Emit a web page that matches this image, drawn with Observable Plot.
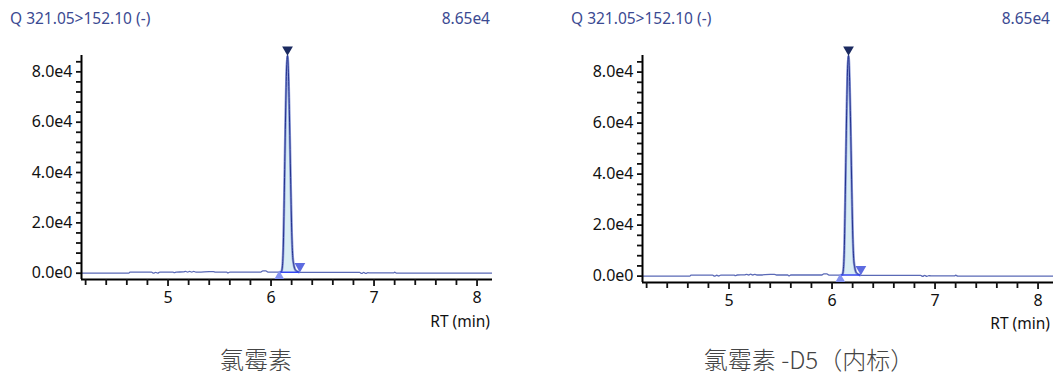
<!DOCTYPE html>
<html><head><meta charset="utf-8">
<script src="https://cdn.jsdelivr.net/npm/d3@7"></script>
<script src="https://cdn.jsdelivr.net/npm/@observablehq/plot@0.6"></script>
<style>
body{margin:0;background:#fff;}
#root{position:relative;width:1053px;height:380px;overflow:hidden;font-family:"Noto Sans","Open Sans",sans-serif;}
.hdr{position:absolute;top:7px;font-size:15.5px;color:#3b4a92;line-height:22px;white-space:nowrap;}
.xl{position:absolute;font-size:15.5px;color:#111;line-height:20px;white-space:nowrap;}
.cap{position:absolute;top:344px;font-size:24px;font-weight:300;color:#444;line-height:30px;white-space:nowrap;font-family:"Noto Sans CJK SC","Noto Sans",sans-serif;transform:translateX(-50%);}
.plot{position:absolute;top:30px;}
</style>
</head><body><div id="root"></div>
<script>
// ---- data ----
const titleLeft = "氯霉素";
const titleRight = "氯霉素 -D5（内标）";
const transition = "Q 321.05>152.10 (-)";
const maxLabel = "8.65e4";
const rt = [4.16,4.62,4.63,4.84,4.86,4.88,4.90,4.92,5.05,5.06,5.08,5.15,5.17,5.19,5.21,5.23,5.25,5.27,5.30,5.40,5.44,5.46,5.57,5.58,5.60,5.90,5.92,5.95,5.97,6.08,6.09,6.10,6.11,6.12,6.13,6.14,6.15,6.16,6.17,6.18,6.19,6.20,6.21,6.22,6.23,6.24,6.26,6.27,6.30,6.86,6.88,6.90,6.92,6.94,6.96,7.19,7.20,7.22,8.15];
const intensityA = [0,0,400,400,0,350,50,400,400,200,450,500,700,450,750,450,700,450,450,650,650,450,450,100,450,450,900,900,400,400,400,600,2500,12000,35000,60000,80000,86500,78000,60000,38000,18000,7000,3500,1800,1100,600,400,300,300,-100,300,-100,200,100,100,400,0,0];
const intensityB = [0,0,400,400,0,350,50,400,400,200,450,500,700,450,750,450,700,450,450,650,650,450,450,100,450,450,900,900,400,400,400,600,2500,12000,35000,60000,80000,86500,78000,60000,38000,18000,7000,3500,1800,1100,600,400,300,300,-100,300,-100,200,100,100,400,0,0];
const peakStart = 6.09, peakEnd = 6.27, peakBase = 400;
const apexRt = 6.16, apexVal = 86500;
const xMajor = [5,6,7,8];
const xMinor = [4.2,4.4,4.6,4.8,5.2,5.4,5.6,5.8,6.2,6.4,6.6,6.8,7.2,7.4,7.6,7.8];
const yMajor = [0,20000,40000,60000,80000];
const yMajorLabels = ["0.0e0","2.0e4","4.0e4","6.0e4","8.0e4"];
const yMinor = [4000,8000,12000,16000,24000,28000,32000,36000,44000,48000,52000,56000,64000,68000,72000,76000,84000];
const xDomain = [4.16,8.15];
const yDomain = [-2500,86500];

function panel(intensity, left, width, mLeft, mRight, mBottom){
  const rows = rt.map((r,i)=>({rt:r, v:intensity[i]}));
  const peak = rows.filter(d=>d.rt>=peakStart && d.rt<=peakEnd);
  const fmt = new Map(yMajor.map((v,i)=>[v,yMajorLabels[i]]));
  const p = Plot.plot({
    width, height:300, marginLeft:mLeft, marginRight:mRight, marginTop:25, marginBottom:mBottom,
    style:{fontSize:"16px", fontFamily:"'Noto Sans','Open Sans',sans-serif", color:"#111", background:"transparent"},
    x:{domain:xDomain, axis:null},
    y:{domain:yDomain, axis:null},
    marks:[
      Plot.areaY(peak,{x:"rt", y1:()=>peakBase, y2:"v", fill:"#d9edf4", curve:"monotone-x", clip:true}),
      Plot.line(rows,{x:"rt", y:"v", stroke:"#5a69b6", strokeWidth:1.3, curve:"monotone-x", clip:true}),
      Plot.line(peak,{x:"rt", y:"v", stroke:"#8f9dd9", strokeWidth:2.5, curve:"monotone-x", clip:true}),
      Plot.line(peak,{x:"rt", y:"v", stroke:"#23328e", strokeWidth:1, curve:"monotone-x", clip:true}),
      Plot.line([{rt:peakStart,v:peakBase},{rt:peakEnd,v:peakBase}],{x:"rt", y:"v", stroke:"#3346f0", strokeWidth:1.5}),
      Plot.ruleY([yDomain[0]],{stroke:"#000", strokeWidth:2}),
      Plot.ruleX([xDomain[0]],{stroke:"#000", strokeWidth:2}),
      Plot.axisX({ticks:xMinor, tickSize:6, tickFormat:()=>"", strokeWidth:1.8, anchor:"bottom", label:null}),
      Plot.axisX({ticks:xMajor, tickSize:7, tickPadding:5, tickFormat:d=>String(d), strokeWidth:1.8, anchor:"bottom", fill:"#111", label:null}),
      Plot.axisY({ticks:yMinor, tickSize:5, tickFormat:()=>"", strokeWidth:1.8, anchor:"left", label:null}),
      Plot.axisY({ticks:yMajor, tickSize:5, tickPadding:4, tickFormat:d=>fmt.get(d), strokeWidth:1.8, anchor:"left", fill:"#111", label:null}),
      Plot.dot([{rt:apexRt,v:apexVal}],{x:"rt", y:"v", symbol:"triangle", r:4, rotate:180, fill:"#1b2a60", dy:-6}),
      Plot.dot([{rt:peakStart-0.01,v:peakBase}],{x:"rt", y:"v", symbol:"triangle", r:3.6, fill:"#8593f0", dy:4}),
      Plot.dot([{rt:peakEnd+0.01,v:peakBase}],{x:"rt", y:"v", symbol:"triangle", r:4, rotate:180, fill:"#5d6be0", dy:-6})
    ]
  });
  p.classList.add("plot");
  p.style.left = left+"px";
  return p;
}
const root = document.getElementById("root");
root.appendChild(panel(intensityA, 0, 520, 81, 28, 51));
root.appendChild(panel(intensityB, 560, 493, 82, 0, 48));
function add(cls, text, style){const d=document.createElement("div");d.className=cls;d.textContent=text;Object.assign(d.style,style);root.appendChild(d);}
add("hdr", transition, {left:"10px"});
add("hdr", maxLabel, {right:(1053-490)+"px"});
add("hdr", transition, {left:"571px"});
add("hdr", maxLabel, {right:"3px"});
add("xl", "RT (min)", {right:(1053-490)+"px", top:"311px"});
add("xl", "RT (min)", {right:"3px", top:"313px"});
add("cap", titleLeft, {left:"256px"});
add("cap", titleRight, {left:"809px"});
</script>
</body></html>
